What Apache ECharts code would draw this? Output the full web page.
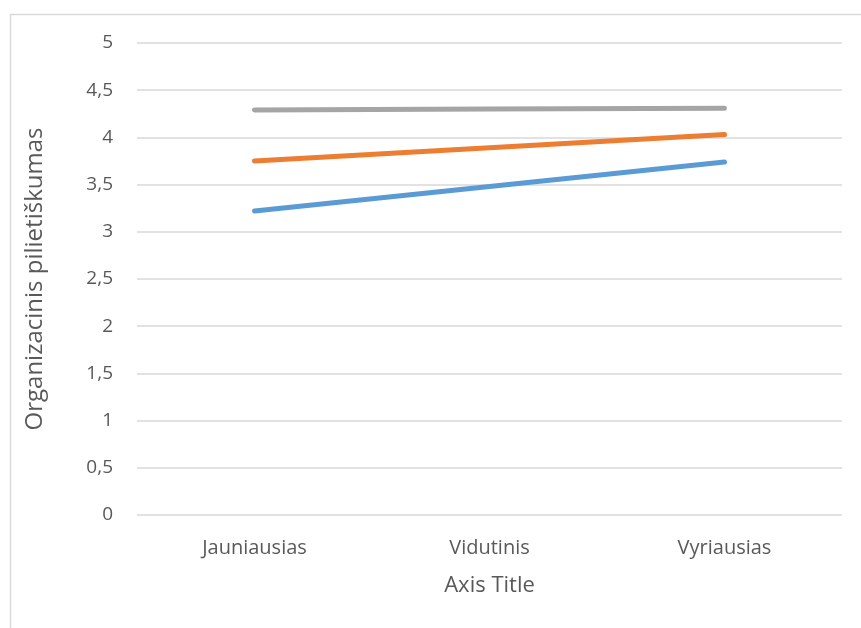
<!DOCTYPE html>
<html><head><meta charset="utf-8">
<script src="https://cdn.jsdelivr.net/npm/echarts@6/dist/echarts.min.js"></script>
<style>html,body{margin:0;padding:0;background:#fff}#c{width:861px;height:628px}</style>
</head><body><div id="c"></div>
<script>
const categories = ['Jauniausias', 'Vidutinis', 'Vyriausias'];
const seriesBlue = [3.22, 3.48, 3.74];
const seriesOrange = [3.75, 3.89, 4.03];
const seriesGray = [4.29, 4.30, 4.31];
const yTicks = [0, 0.5, 1, 1.5, 2, 2.5, 3, 3.5, 4, 4.5, 5];
const yTitle = 'Organizacinis pilietiškumas';
const xTitle = 'Axis Title';

const FONT = 'Open Sans';
const chart = echarts.init(document.getElementById('c'), null, {renderer: 'canvas'});
function mk(name, data, color) {
  return {name, type: 'line', data, symbol: 'none', lineStyle: {color, width: 5, cap: 'round'}, itemStyle: {color}};
}
chart.setOption({
  animation: false,
  graphic: [{type: 'rect', shape: {x: 10.5, y: 14.5, width: 870, height: 640}, style: {fill: 'none', stroke: '#d9d9d9', lineWidth: 1.5}, z: -1}],
  grid: {left: 137, right: 19, top: 43, bottom: 113},
  xAxis: {
    type: 'category', data: categories, boundaryGap: true,
    axisLine: {show: false}, axisTick: {show: false},
    axisLabel: {color: '#595959', fontFamily: FONT, fontSize: 20, margin: 23},
    name: xTitle, nameLocation: 'middle', nameGap: 60,
    nameTextStyle: {color: '#595959', fontFamily: FONT, fontSize: 22}
  },
  yAxis: {
    type: 'value', min: 0, max: 5, interval: 0.5,
    axisLine: {show: false}, axisTick: {show: false},
    splitLine: {lineStyle: {color: '#d9d9d9', width: 1.5}},
    axisLabel: {color: '#595959', fontFamily: FONT, fontSize: 19, margin: 24,
      formatter: v => { const t = yTicks.find(x => Math.abs(x - v) < 1e-9); return String(t !== undefined ? t : v).replace('.', ','); }},
    name: yTitle, nameLocation: 'middle', nameGap: 90, nameRotate: 90,
    nameTextStyle: {color: '#595959', fontFamily: FONT, fontSize: 24}
  },
  series: [mk('Blue', seriesBlue, '#5b9bd5'), mk('Orange', seriesOrange, '#ed7d31'), mk('Gray', seriesGray, '#a5a5a5')]
});
</script></body></html>
